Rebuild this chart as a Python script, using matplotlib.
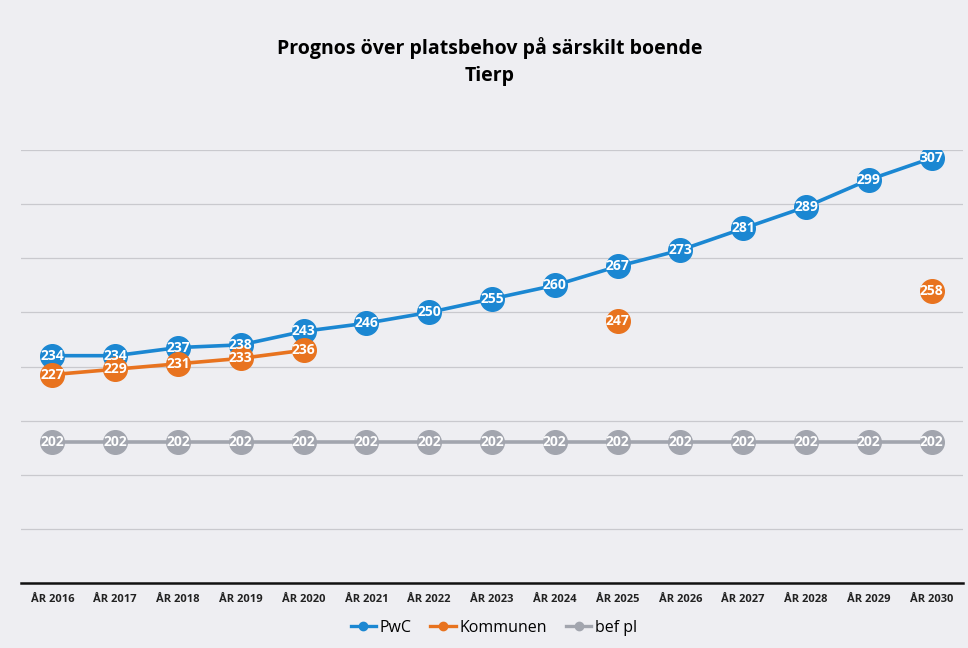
import numpy as np
import matplotlib
matplotlib.use("Agg")
import matplotlib.pyplot as plt

plt.rcParams['font.family'] = ['Open Sans', 'DejaVu Sans']

# data
years = ['ÅR 2016', 'ÅR 2017', 'ÅR 2018', 'ÅR 2019', 'ÅR 2020', 'ÅR 2021', 'ÅR 2022', 'ÅR 2023',
         'ÅR 2024', 'ÅR 2025', 'ÅR 2026', 'ÅR 2027', 'ÅR 2028', 'ÅR 2029', 'ÅR 2030']
pwc = [234, 234, 237, 238, 243, 246, 250, 255, 260, 267, 273, 281, 289, 299, 307]
kommunen = [227, 229, 231, 233, 236, None, None, None, None, 247, None, None, None, None, 258]
bef_pl = [202] * 15

series = [
    ('PwC', pwc, '#1b87d2'),
    ('Kommunen', kommunen, '#e8731f'),
    ('bef pl', bef_pl, '#a2a5ae'),
]

fig = plt.figure(figsize=(9.68, 6.48), dpi=100)
fig.patch.set_facecolor('#eeeef2')
ax = fig.add_axes([0.0217, 0.1003, 0.9731, 0.6682])
ax.set_facecolor('none')

x = np.arange(len(years))
for name, vals, col in series:
    y = np.array([np.nan if v is None else v for v in vals], dtype=float)
    ax.plot(x, y, color=col, lw=2.6, marker='o', markersize=17,
            markeredgecolor=col, label=name, zorder=3)
    for xi, v in zip(x, vals):
        if v is None:
            continue
        ax.text(xi, v, str(v), color='white', fontsize=10, fontweight='bold',
                ha='center', va='center', zorder=4)

ax.set_xlim(-0.5, len(years) - 0.5)
ax.set_ylim(150, 310)
ax.set_yticks(np.arange(150, 311, 20))
ax.yaxis.grid(True, color='#c9c9ce', lw=0.9)
ax.set_axisbelow(True)
ax.tick_params(axis='y', left=False, labelleft=False)
ax.tick_params(axis='x', length=0, pad=8)
ax.set_xticks(x)
ax.set_xticklabels(years, fontsize=8, fontweight='bold', color='#222222')
for s in ['left', 'right', 'top']:
    ax.spines[s].set_visible(False)
ax.spines['bottom'].set_color('#111111')
ax.spines['bottom'].set_linewidth(1.8)

fig.text(0.506, 0.905, 'Prognos över platsbehov på särskilt boende\nTierp', ha='center',
         va='center', fontsize=14, fontweight='bold', linespacing=1.45)

leg_handles = [plt.Line2D([0], [0], color=c, lw=2.4, marker='o', markersize=6) for _, _, c in series]
fig.legend(leg_handles, [n for n, _, _ in series], loc='center', bbox_to_anchor=(0.51, 0.031),
           ncol=3, frameon=False, fontsize=11.5, handlelength=1.6, handletextpad=0.2, columnspacing=1.2)

fig.savefig('out.png', dpi=100, facecolor=fig.get_facecolor())
